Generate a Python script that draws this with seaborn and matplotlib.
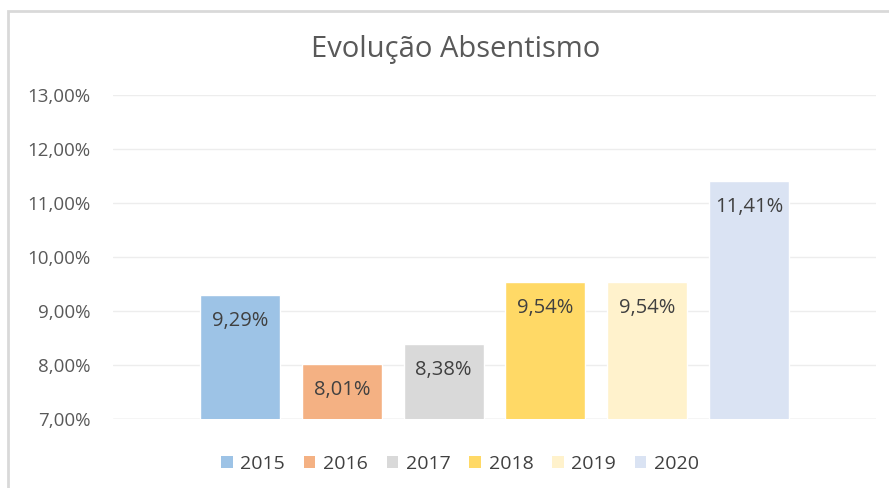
import matplotlib
matplotlib.use("Agg")
import matplotlib.pyplot as plt
import seaborn as sns
import pandas as pd
from matplotlib.patches import Rectangle, Patch

years = ["2015", "2016", "2017", "2018", "2019", "2020"]
values = [9.29, 8.01, 8.38, 9.54, 9.54, 11.41]
colors = ["#9DC3E6", "#F4B183", "#D9D9D9", "#FFD966", "#FFF2CC", "#DAE3F3"]
yticks = [7, 8, 9, 10, 11, 12, 13]
title = "Evolução Absentismo"

df = pd.DataFrame({"cat": ["Absentismo"] * len(years), "year": years, "val": values})

sns.set_theme(style="white")
plt.rcParams["font.family"] = ["Open Sans", "DejaVu Sans"]

W, H = 889, 488
fig = plt.figure(figsize=(W / 100, H / 100), dpi=100)
ax = fig.add_axes([113 / W, 1 - 419 / H, (876 - 113) / W, (419 - 95) / H])

sns.barplot(data=df, x="cat", y="val", hue="year", palette=colors,
            width=1.0, gap=0.214, ax=ax, legend=False, saturation=1)

ax.set_ylim(7, 13)
ax.set_xlim(-0.625, 0.625)
ax.set_yticks(yticks)
ax.set_yticklabels([f"{v:.2f}".replace(".", ",") + "%" for v in yticks],
                   color="#595959", fontsize=13.5)
ax.tick_params(axis="y", length=0, pad=16)
ax.set_xticks([])
ax.set_xlabel("")
ax.set_ylabel("")
for s in ax.spines.values():
    s.set_visible(False)
ax.yaxis.grid(True, color="#EDEDED", linewidth=1)
ax.set_axisbelow(True)
ax.axhline(7, color="#D9D9D9", linewidth=1, zorder=0.5)

for cont, v in zip(ax.containers, values):
    bar = cont.patches[0]
    x = bar.get_x() + bar.get_width() / 2
    ax.annotate(f"{v:.2f}".replace(".", ",") + "%", xy=(x, v), xytext=(0, -26),
                textcoords="offset pixels", ha="center", va="center",
                fontsize=14.5, color="#404040")

fig.text(456 / W, 1 - 49 / H, title, ha="center", va="center", fontsize=21, color="#595959")

handles = [Patch(facecolor=c, edgecolor="none") for c in colors]
fig.legend(handles, years, loc="center", bbox_to_anchor=(460 / W, 1 - 464 / H),
           ncol=6, frameon=False, fontsize=14, handlelength=0.6, handleheight=0.6,
           handletextpad=0.4, columnspacing=0.95, labelcolor="#404040")

fig.patches.append(Rectangle((8 / W, -0.05), 1.1, 1 - 10.5 / H + 0.05, transform=fig.transFigure,
                             fill=False, edgecolor="#D9D9D9", linewidth=2))

fig.savefig("out.png", dpi=100, facecolor="white")
